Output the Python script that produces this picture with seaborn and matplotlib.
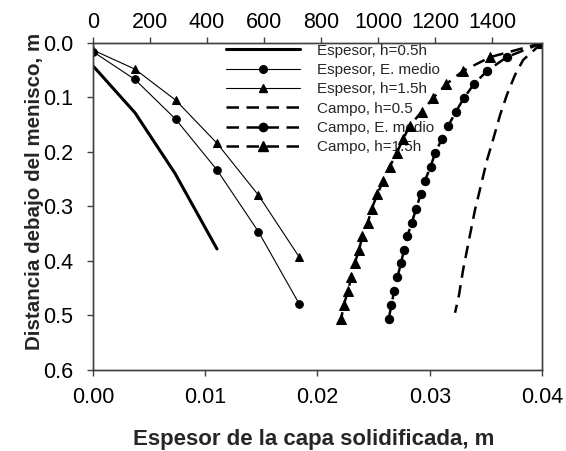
import matplotlib
matplotlib.use("Agg")
import matplotlib.pyplot as plt
from matplotlib.lines import Line2D
import seaborn as sns

# Shell thickness (bottom axis, m) against distance below the meniscus (m)
esp_x = [0.0, 0.00374, 0.00737, 0.01105, 0.01473, 0.01838]
esp_05_x = [0.0, 0.00374, 0.0073, 0.01105]
esp_05_y = [0.042, 0.128, 0.239, 0.378]
esp_med_y = [0.016, 0.067, 0.140, 0.233, 0.346, 0.479]
esp_15_y = [0.013, 0.048, 0.105, 0.184, 0.279, 0.393]

# Temperature field (top axis) against distance below the meniscus (m)
campo_y = [0.000, 0.026, 0.051, 0.075, 0.101, 0.126, 0.152, 0.177, 0.202,
           0.227, 0.253, 0.278, 0.305, 0.330, 0.354, 0.380, 0.404, 0.430,
           0.455, 0.481, 0.506]
campo_med_t = [1575, 1451, 1383, 1337, 1301, 1273, 1246, 1223, 1200, 1184,
               1164, 1149, 1133, 1118, 1103, 1091, 1080, 1068, 1056, 1047, 1037]
campo_15_t = [1575, 1393, 1299, 1240, 1193, 1153, 1111, 1087, 1065, 1041,
              1018, 997, 977, 964, 945, 933, 918, 905, 895, 879, 871]
campo_05_y = [0.0, 0.0165, 0.031, 0.059, 0.095, 0.132, 0.178, 0.215, 0.261,
              0.306, 0.361, 0.417, 0.462, 0.495]
campo_05_t = [1575, 1540, 1509, 1480, 1452, 1428, 1403, 1382, 1361,
              1340, 1319, 1298, 1284, 1270]

labels = ["Espesor, h=0.5h", "Espesor, E. medio", "Espesor, h=1.5h",
          "Campo, h=0.5", "Campo, E. medio", "Campo, h=1.5h"]

y_ticks = [0.0, 0.1, 0.2, 0.3, 0.4, 0.5, 0.6]
x_ticks = [0.00, 0.01, 0.02, 0.03, 0.04]
top_ticks = [0, 200, 400, 600, 800, 1000, 1200, 1400]

sns.set_style("ticks")
plt.rcParams["font.family"] = ["Liberation Sans", "DejaVu Sans"]

fig = plt.figure(figsize=(5.66, 4.51), dpi=100)
ax = fig.add_axes([0.1643, 0.1796, 0.7933, 0.7251])
ax2 = ax.twiny()

spine_c = "#404040"
K = "black"

common = dict(estimator=None, sort=False, legend=False)

# thickness curves on the bottom axis
sns.lineplot(x=esp_05_x, y=esp_05_y, ax=ax, color=K, lw=2.2, **common)
sns.lineplot(x=esp_x, y=esp_med_y, ax=ax, color=K, lw=0.8, marker="o",
             markersize=5.5, markeredgecolor=K, **common)
sns.lineplot(x=esp_x, y=esp_15_y, ax=ax, color=K, lw=0.8, marker="^",
             markersize=6, markeredgecolor=K, **common)

# temperature field curves on the top axis
dash = (5, 3)
sns.lineplot(x=campo_05_t, y=campo_05_y, ax=ax2, color=K, lw=1.8, **common)
ax2.lines[-1].set_dashes(dash)
sns.lineplot(x=campo_med_t, y=campo_y, ax=ax2, color=K, lw=1.8, marker="o",
             markersize=6, markeredgecolor=K, **common)
ax2.lines[-1].set_dashes(dash)
sns.lineplot(x=campo_15_t, y=campo_y, ax=ax2, color=K, lw=1.8, marker="^",
             markersize=6.5, markeredgecolor=K, **common)
ax2.lines[-1].set_dashes(dash)

ax.set_xlim(0, 0.04)
ax.set_ylim(0.6, 0.0)
ax2.set_xlim(0, 1575)
ax.set_xticks(x_ticks)
ax.set_xticklabels([f"{v:.2f}" for v in x_ticks])
ax.set_yticks(y_ticks)
ax.set_yticklabels([f"{v:.1f}" for v in y_ticks])
ax2.set_xticks(top_ticks)
ax2.set_xticklabels([str(v) for v in top_ticks])

for a in (ax, ax2):
    for s in a.spines.values():
        s.set_color(spine_c)
        s.set_linewidth(1.0)
    a.tick_params(colors=spine_c, labelcolor="black", labelsize=15.5,
                  length=4, width=1.0, direction="out")
ax.tick_params(axis="x", pad=8)
ax.tick_params(axis="y", pad=10)
ax2.tick_params(axis="x", pad=3)

ax.set_xlabel("Espesor de la capa solidificada, m", fontsize=16,
              fontweight="bold", va="center")
ax.set_ylabel("Distancia debajo del menisco, m", fontsize=14.8,
              fontweight="bold", va="center")
ax.xaxis.set_label_coords(0.491, -0.212)
ax.yaxis.set_label_coords(-0.13, 0.547)
ax2.set_xlabel("")
ax2.set_ylabel("")

handles = [
    Line2D([], [], color=K, lw=2.2),
    Line2D([], [], color=K, lw=0.8, marker="o", markersize=5.5),
    Line2D([], [], color=K, lw=0.8, marker="^", markersize=6),
    Line2D([], [], color=K, lw=1.8, dashes=dash),
    Line2D([], [], color=K, lw=1.8, dashes=dash, marker="o", markersize=6),
    Line2D([], [], color=K, lw=1.8, dashes=dash, marker="^", markersize=6.5),
]
leg = ax.legend(handles, labels, loc="upper left", bbox_to_anchor=(0.297, 0.998),
                frameon=False, fontsize=11, handlelength=4.8, handletextpad=1.15,
                labelspacing=0.35, borderpad=0, borderaxespad=0)

fig.savefig("out.png", dpi=100)
